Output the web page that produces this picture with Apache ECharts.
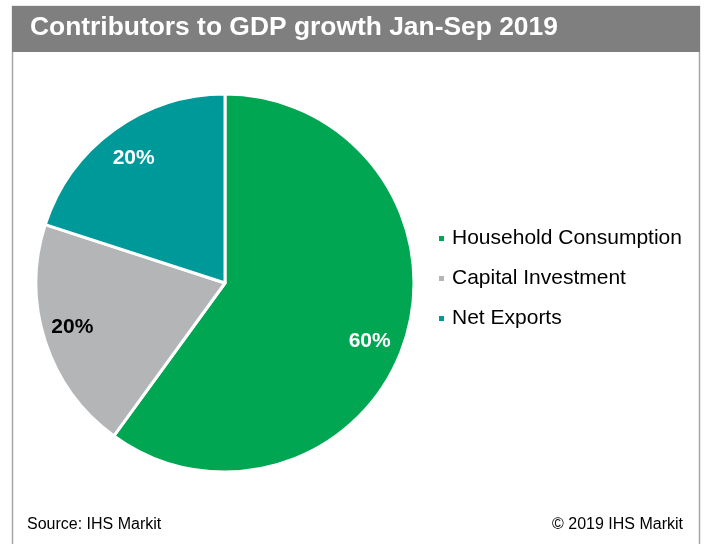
<!DOCTYPE html>
<html>
<head>
<meta charset="utf-8">
<script src="https://cdn.jsdelivr.net/npm/echarts@6/dist/echarts.min.js"></script>
<style>
  html, body { margin: 0; padding: 0; background: #ffffff; }
  #chart { width: 704px; height: 544px; }
</style>
</head>
<body>
<div id="chart"></div>
<script>
// Contributors to GDP growth, Jan-Sep 2019 (share of growth, %)
const categories = ['Household Consumption', 'Capital Investment', 'Net Exports'];
const shares = [60, 20, 20];
const sliceColors = ['#00a651', '#b3b5b7', '#00999a'];
const labelColors = ['#ffffff', '#000000', '#ffffff'];

const titleText = 'Contributors to GDP growth Jan-Sep 2019';
const sourceText = 'Source: IHS Markit';
const copyrightText = '\u00a9 2019 IHS Markit';

const FONT = '"Liberation Sans", Arial, Helvetica, sans-serif';

// small nudges for the percentage labels (pixels), by slice order
const LABEL_NUDGE = [[-8, 9], [0, -5], [3, 5]];

const pieData = categories.map((name, i) => ({
  name: name,
  value: shares[i],
  itemStyle: { color: sliceColors[i] }
}));

const labelData = categories.map((name, i) => ({
  name: name,
  value: shares[i],
  label: { color: labelColors[i] }
}));

const chart = echarts.init(document.getElementById('chart'), null, { renderer: 'canvas' });

chart.setOption({
  animation: false,
  backgroundColor: '#ffffff',
  graphic: [
    // outer frame
    {
      type: 'rect', z: 0,
      shape: { x: 12.5, y: 6.5, width: 687, height: 560 },
      style: { fill: '#ffffff', stroke: '#a6a6a6', lineWidth: 1.5 }
    },
    // title bar
    {
      type: 'rect', z: 1,
      shape: { x: 12, y: 6, width: 688, height: 46 },
      style: { fill: '#7f7f7f' }
    },
    {
      type: 'text', z: 2, left: 30, top: 15,
      style: { text: titleText, fill: '#ffffff', font: 'bold 26.4px ' + FONT }
    },
    {
      type: 'text', z: 2, left: 27, top: 517,
      style: { text: sourceText, fill: '#000000', font: '16px ' + FONT }
    },
    {
      type: 'text', z: 2, right: 21, top: 517,
      style: { text: copyrightText, fill: '#000000', font: '16px ' + FONT }
    }
  ],
  legend: {
    orient: 'vertical',
    left: 437,
    top: 228,
    padding: 0,
    icon: 'rect',
    itemWidth: 7,
    itemHeight: 7,
    itemGap: 19,
    data: categories,
    textStyle: { color: '#000000', fontSize: 21, fontFamily: FONT, padding: [0, 0, 0, 2] },
    selectedMode: false
  },
  series: [
    {
      type: 'pie',
      center: [225, 283],
      radius: [0, 189],
      startAngle: 90,
      clockwise: true,
      silent: true,
      label: { show: false },
      labelLine: { show: false },
      itemStyle: { borderColor: '#ffffff', borderWidth: 3 },
      data: pieData
    },
    {
      // transparent ring used only to place the percentage labels
      type: 'pie',
      center: [225, 283],
      radius: [126, 189],
      startAngle: 90,
      clockwise: true,
      silent: true,
      itemStyle: { color: 'rgba(0,0,0,0)' },
      label: {
        show: true,
        position: 'inside',
        formatter: '{c}%',
        fontSize: 21,
        fontWeight: 'bold',
        fontFamily: FONT
      },
      labelLine: { show: false },
      labelLayout: function (params) {
        const n = LABEL_NUDGE[params.dataIndex] || [0, 0];
        return { dx: n[0], dy: n[1] };
      },
      data: labelData
    }
  ]
});
</script>
</body>
</html>
